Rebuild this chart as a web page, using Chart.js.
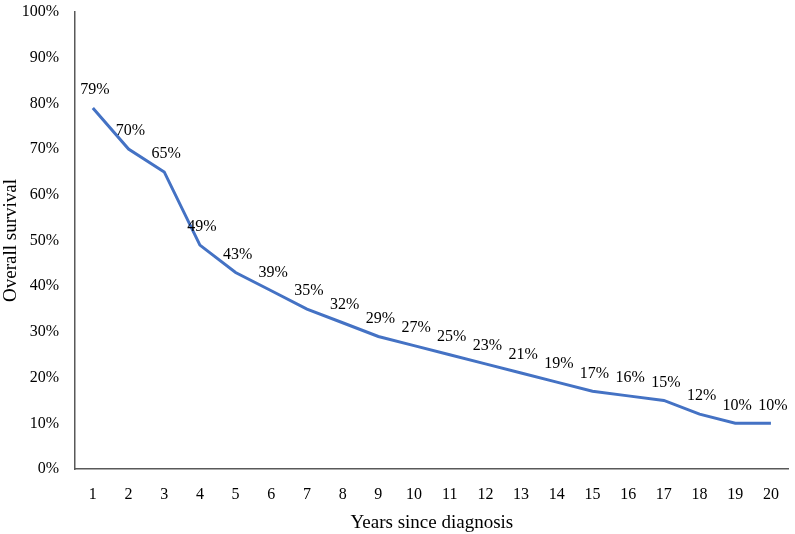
<!DOCTYPE html>
<html>
<head>
<meta charset="utf-8">
<script src="https://cdn.jsdelivr.net/npm/chart.js@4/dist/chart.umd.min.js"></script>
<style>
    html, body { margin: 0; padding: 0; background: #fff; }
    #wrap { width: 795px; height: 534px; }
</style>
</head>
<body>
<div id="wrap"><canvas id="survivalChart"></canvas></div>
<script>
// Chart data
const years = ['1', '2', '3', '4', '5', '6', '7', '8', '9', '10', '11', '12', '13', '14', '15', '16', '17', '18', '19', '20'];
const survival = [79, 70, 65, 49, 43, 39, 35, 32, 29, 27, 25, 23, 21, 19, 17, 16, 15, 12, 10, 10];
const yTicks = [0, 10, 20, 30, 40, 50, 60, 70, 80, 90, 100];

const FONT = "'Liberation Serif', 'DejaVu Serif', serif";

// Simple data label plugin (values above each point)
const pointLabels = {
    id: 'pointLabels',
    afterDatasetsDraw(chart) {
        const ctx = chart.ctx;
        const meta = chart.getDatasetMeta(0);
        ctx.save();
        ctx.font = '16px ' + FONT;
        ctx.fillStyle = '#000';
        ctx.textAlign = 'center';
        ctx.textBaseline = 'bottom';
        meta.data.forEach((pt, i) => {
            ctx.fillText(survival[i] + '%', pt.x + 2, pt.y - 10);
        });
        ctx.restore();
    }
};

const ctx = document.getElementById('survivalChart').getContext('2d');
new Chart(ctx, {
    type: 'line',
    data: {
        labels: years,
        datasets: [{
            label: 'Overall survival',
            data: survival,
            borderColor: '#4472C4',
            borderWidth: 3,
            pointRadius: 0,
            tension: 0,
            fill: false
        }]
    },
    options: {
        responsive: true,
        maintainAspectRatio: false,
        animation: false,
        layout: { padding: { top: 12, right: 3, bottom: 0, left: 0 } },
        plugins: {
            legend: { display: false },
            tooltip: { enabled: false }
        },
        scales: {
            x: {
                offset: true,
                grid: { display: false, drawTicks: false },
                border: { display: true, color: '#595959', width: 1.5 },
                ticks: { color: '#000', font: { family: FONT, size: 16 }, padding: 16, maxRotation: 0 },
                title: { display: true, text: 'Years since diagnosis', color: '#000', font: { family: FONT, size: 19 }, padding: { top: 0, bottom: 0 } },
                afterFit: (axis) => { axis.height = 65; }
            },
            y: {
                min: 0,
                max: 100,
                afterBuildTicks: (axis) => { axis.ticks = yTicks.map(v => ({ value: v })); },
                grid: { display: false, drawTicks: false },
                border: { display: true, color: '#595959', width: 1.5 },
                ticks: { color: '#000', font: { family: FONT, size: 16 }, padding: 16, callback: v => v + '%' },
                title: { display: true, text: 'Overall survival', color: '#000', font: { family: FONT, size: 19 }, padding: { top: 0, bottom: 0 } },
                afterFit: (axis) => {
                    axis.width = 75;
                    axis.paddingTop = 0;
                    axis.paddingBottom = 0;
                }
            }
        }
    },
    plugins: [pointLabels]
});
</script>
</body>
</html>
